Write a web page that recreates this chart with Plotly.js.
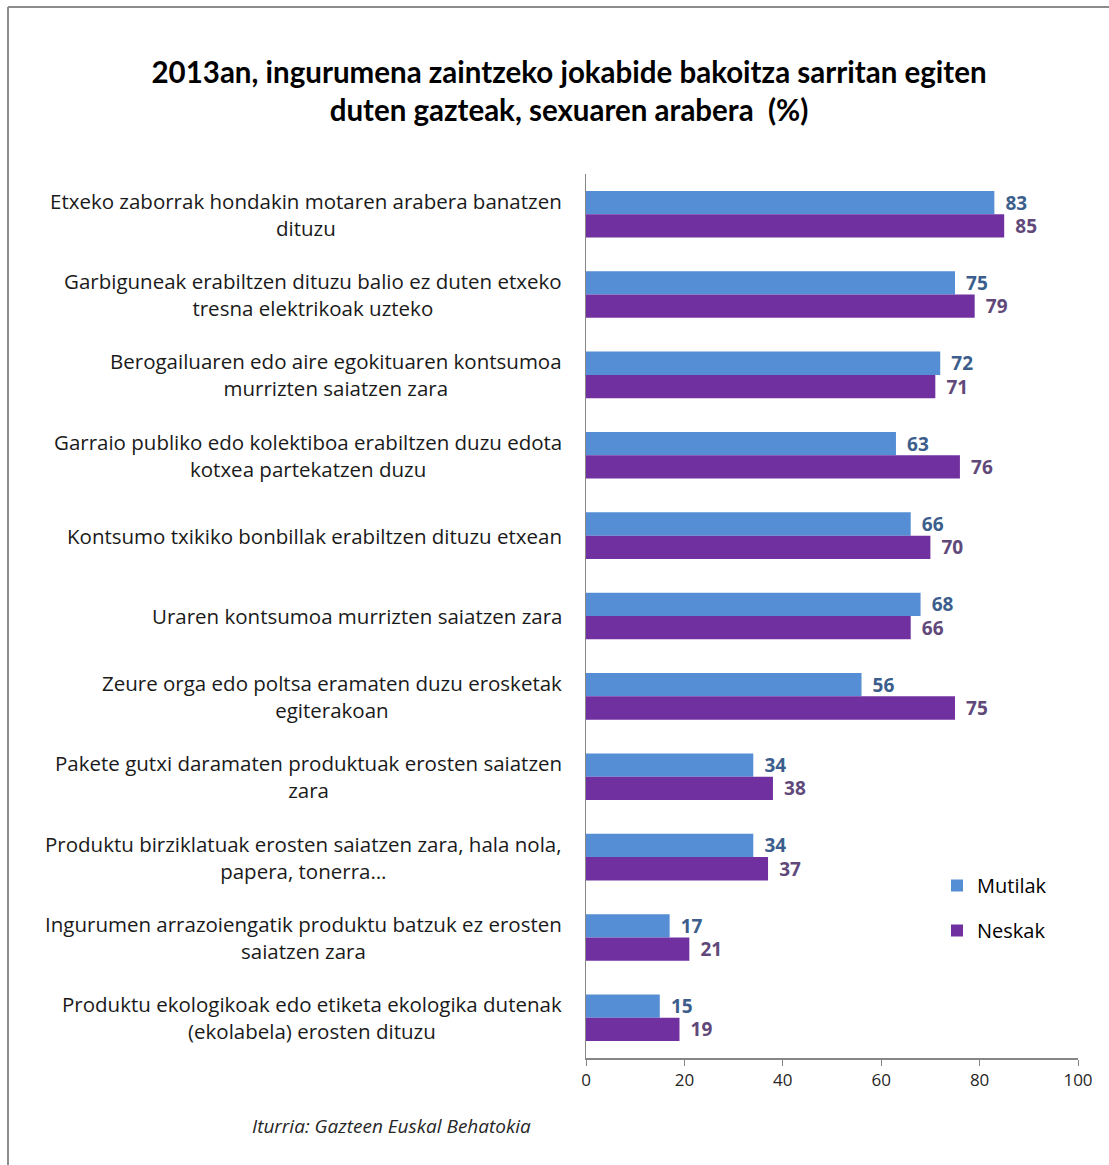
<!DOCTYPE html>
<html><head><meta charset="utf-8">
<script src="https://cdn.plot.ly/plotly-3.0.1.min.js"></script>
<style>html,body{margin:0;padding:0;background:#fff;}#chart{width:1109px;height:1165px;}</style>
</head><body><div id="chart"></div>
<script>
const categories = [
  "Etxeko zaborrak hondakin motaren arabera banatzen<br>dituzu",
  "Garbiguneak erabiltzen dituzu balio ez duten etxeko<br>tresna elektrikoak uzteko",
  "Berogailuaren edo aire egokituaren kontsumoa<br>murrizten saiatzen zara",
  "Garraio publiko edo kolektiboa erabiltzen duzu edota<br>kotxea partekatzen duzu",
  "Kontsumo txikiko bonbillak erabiltzen dituzu etxean",
  "Uraren kontsumoa murrizten saiatzen zara",
  "Zeure orga edo poltsa eramaten duzu erosketak<br>egiterakoan",
  "Pakete gutxi daramaten produktuak erosten saiatzen<br>zara",
  "Produktu birziklatuak erosten saiatzen zara, hala nola,<br>papera, tonerra…",
  "Ingurumen arrazoiengatik produktu batzuk ez erosten<br>saiatzen zara",
  "Produktu ekologikoak edo etiketa ekologika dutenak<br>(ekolabela) erosten dituzu"
];
const mutilak = [83, 75, 72, 63, 66, 68, 56, 34, 34, 17, 15];
const neskak  = [85, 79, 71, 76, 70, 66, 75, 38, 37, 21, 19];
const xTicks = [0, 20, 40, 60, 80, 100];
const seriesNames = ["Mutilak", "Neskak"];
const titleText = "2013an, ingurumena zaintzeko jokabide bakoitza sarritan egiten<br>duten gazteak, sexuaren arabera  (%)";
const sourceText = "Iturria: Gazteen Euskal Behatokia";

const FONT = "'Open Sans', Lato, sans-serif";
const TFONT = "Lato, 'Open Sans', sans-serif";
const PAD = '\u00a0\u2009';

const traces = [
  {type:'bar', orientation:'h', name:seriesNames[0], y:categories, x:mutilak,
   marker:{color:'#558ED5'}, text:mutilak.map(v => PAD + v), textposition:'outside',
   constraintext:'none',
   textfont:{family:FONT, size:19, color:'#3B5E8C', weight:'bold'}, cliponaxis:false,
   legendgroup:'a', hoverinfo:'x'},
  {type:'bar', orientation:'h', name:seriesNames[1], y:categories, x:neskak,
   marker:{color:'#7030A0'}, text:neskak.map(v => PAD + v), textposition:'outside',
   constraintext:'none',
   textfont:{family:FONT, size:19, color:'#60497A', weight:'bold'}, cliponaxis:false,
   legendgroup:'b', hoverinfo:'x'}
];

const annotations = categories.map(c => ({
  xref:'paper', yref:'y', x:0, y:c, xanchor:'right', yanchor:'middle', xshift:-22,
  text:c, showarrow:false, align:'center',
  font:{family:FONT, size:20.5, color:'#1a1a1a'}
}));
annotations.push({
  xref:'paper', yref:'paper', x:(391-586)/492, y:(1058-1126)/884, xanchor:'center', yanchor:'middle',
  text:'<i>'+sourceText+'</i>', showarrow:false, font:{family:FONT, size:19, color:'#262626'}
});

const layout = {
  width:1109, height:1165,
  margin:{l:586, r:31, t:174, b:107},
  paper_bgcolor:'#fff', plot_bgcolor:'#fff',
  title:{text:'<b>'+titleText+'</b>', x:569/1109, xanchor:'center', xref:'container',
    y:1-83/1165, yanchor:'middle', yref:'container', font:{family:TFONT, size:29.5, color:'#000'}},
  barmode:'group', bargap:0.42, bargroupgap:0,
  showlegend:true,
  legend:{x:(937-586)/492, y:(1058-866)/884, xanchor:'left', yanchor:'top',
    traceorder:'grouped', tracegroupgap:16, font:{family:FONT, size:20, color:'#000'},
    bgcolor:'rgba(0,0,0,0)'},
  xaxis:{range:[0,100], tickvals:xTicks, ticktext:xTicks.map(String), showgrid:false, zeroline:false,
    showline:true, linecolor:'#868686', linewidth:1.5, ticks:'outside', ticklen:6, tickcolor:'#868686',
    tickfont:{family:FONT, size:17, color:'#262626'}, fixedrange:true},
  yaxis:{type:'category', autorange:'reversed', showticklabels:false, showgrid:false, zeroline:false,
    showline:true, linecolor:'#868686', linewidth:1.5, ticks:'', fixedrange:true},
  annotations:annotations,
  shapes:[
    {type:'line', xref:'paper', yref:'paper', x0:(8-586)/492, x1:(1120-586)/492, y0:(1058-7)/884, y1:(1058-7)/884,
     line:{color:'#8c8c8c', width:2}},
    {type:'line', xref:'paper', yref:'paper', x0:(8-586)/492, x1:(8-586)/492, y0:(1058-7)/884, y1:(1058-1170)/884,
     line:{color:'#8c8c8c', width:2}}
  ]
};

Plotly.newPlot('chart', traces, layout, {staticPlot:true, displayModeBar:false});
</script></body></html>
